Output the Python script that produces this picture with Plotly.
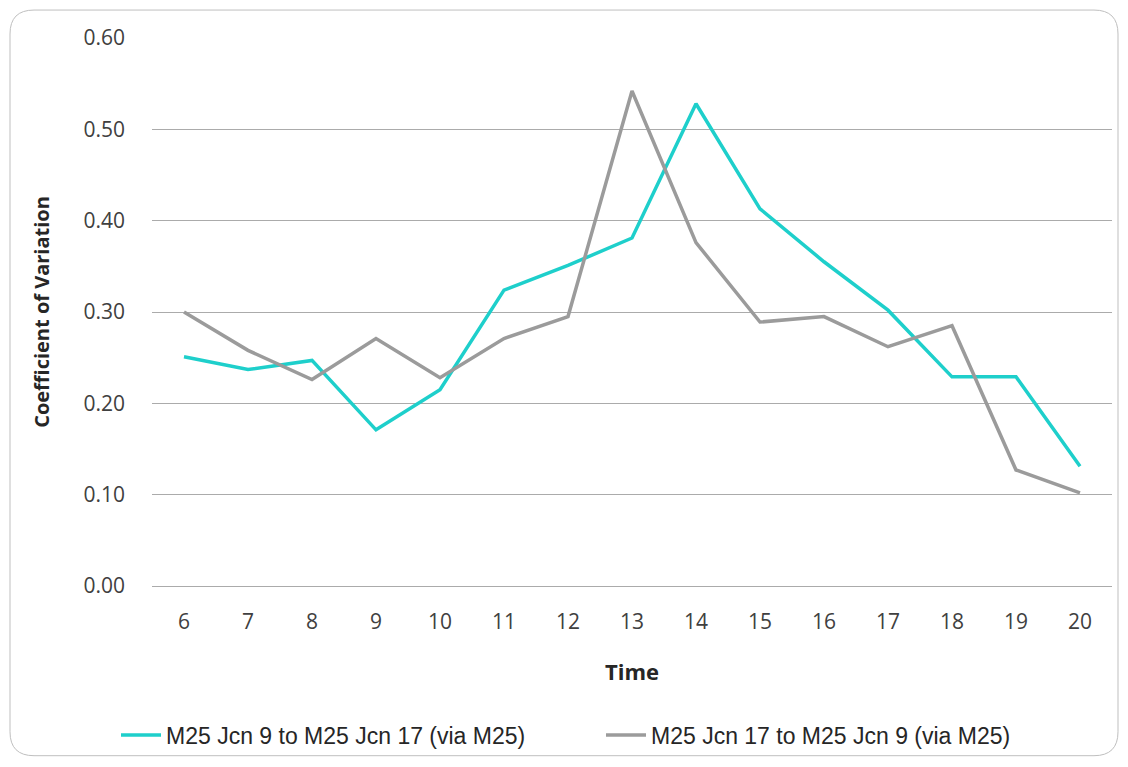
import plotly.graph_objects as go

times = ["6", "7", "8", "9", "10", "11", "12", "13", "14", "15", "16", "17", "18", "19", "20"]
series_a_name = "M25 Jcn 9 to M25 Jcn 17 (via M25)"
series_a = [0.251, 0.237, 0.247, 0.171, 0.215, 0.324, 0.351, 0.381, 0.528, 0.413, 0.355, 0.302, 0.229, 0.229, 0.131]
series_b_name = "M25 Jcn 17 to M25 Jcn 9 (via M25)"
series_b = [0.300, 0.258, 0.226, 0.271, 0.228, 0.271, 0.295, 0.542, 0.376, 0.289, 0.295, 0.262, 0.285, 0.127, 0.102]
y_ticks = [0.0, 0.1, 0.2, 0.3, 0.4, 0.5, 0.6]

W, H = 1128, 767
L, R, T, B = 152, 16, 38, 180
pw, ph = W - L - R, H - T - B

fig = go.Figure()
fig.add_trace(go.Scatter(x=times, y=series_a, mode="lines", name=series_a_name,
                         line=dict(color="#1ECFCB", width=3.5)))
fig.add_trace(go.Scatter(x=times, y=series_b, mode="lines", name=series_b_name,
                         line=dict(color="#9B9B9B", width=3.5)))

def px(xp):
    return (xp - L) / pw

def py(yp):
    return (H - B - yp) / ph

# rounded chart border
x0, y0, x1, y1, r = 10, 10, 1118, 757, 24
path = (f"M {px(x0+r)},{py(y0)} L {px(x1-r)},{py(y0)} Q {px(x1)},{py(y0)} {px(x1)},{py(y0+r)} "
        f"L {px(x1)},{py(y1-r)} Q {px(x1)},{py(y1)} {px(x1-r)},{py(y1)} "
        f"L {px(x0+r)},{py(y1)} Q {px(x0)},{py(y1)} {px(x0)},{py(y1-r)} "
        f"L {px(x0)},{py(y0+r)} Q {px(x0)},{py(y0)} {px(x0+r)},{py(y0)} Z")
fig.add_shape(type="path", path=path, xref="paper", yref="paper",
              line=dict(color="#BFBFBF", width=1), layer="below")

fig.update_layout(
    width=W, height=H,
    margin=dict(l=L, r=R, t=T, b=B),
    paper_bgcolor="white", plot_bgcolor="white",
    font=dict(family="Open Sans, sans-serif", color="#404040", size=21),
    showlegend=True,
    legend=dict(orientation="h", x=px(116), xanchor="left", y=py(735), yanchor="middle",
                bgcolor="rgba(0,0,0,0)",
                font=dict(family="Liberation Sans, Arial, sans-serif", size=23, color="#262626"),
                itemwidth=40, tracegroupgap=0, entrywidth=430),
    xaxis=dict(type="category", range=[-0.5, len(times) - 0.5],
               showgrid=False, zeroline=False, showline=False,
               ticks="", ticklabelstandoff=21,
               tickfont=dict(size=21, color="#404040"),
               title=dict(text="<b>Time</b>", font=dict(size=22, color="#262626"), standoff=30)),
    yaxis=dict(range=[0, 0.6], tickvals=y_ticks, tickformat=".2f",
               showgrid=True, gridcolor="#ABABAB", gridwidth=1,
               zeroline=True, zerolinecolor="#ABABAB", zerolinewidth=1,
               showline=False, ticks="", ticklabelstandoff=26,
               tickfont=dict(size=21, color="#404040"),
               title=dict(text="<b>Coefficient of Variation</b>", font=dict(size=20, color="#262626"),
                          standoff=28)),
)

fig.write_html("out.html", config={"displayModeBar": False},
               post_script="document.body.style.margin='0';")
